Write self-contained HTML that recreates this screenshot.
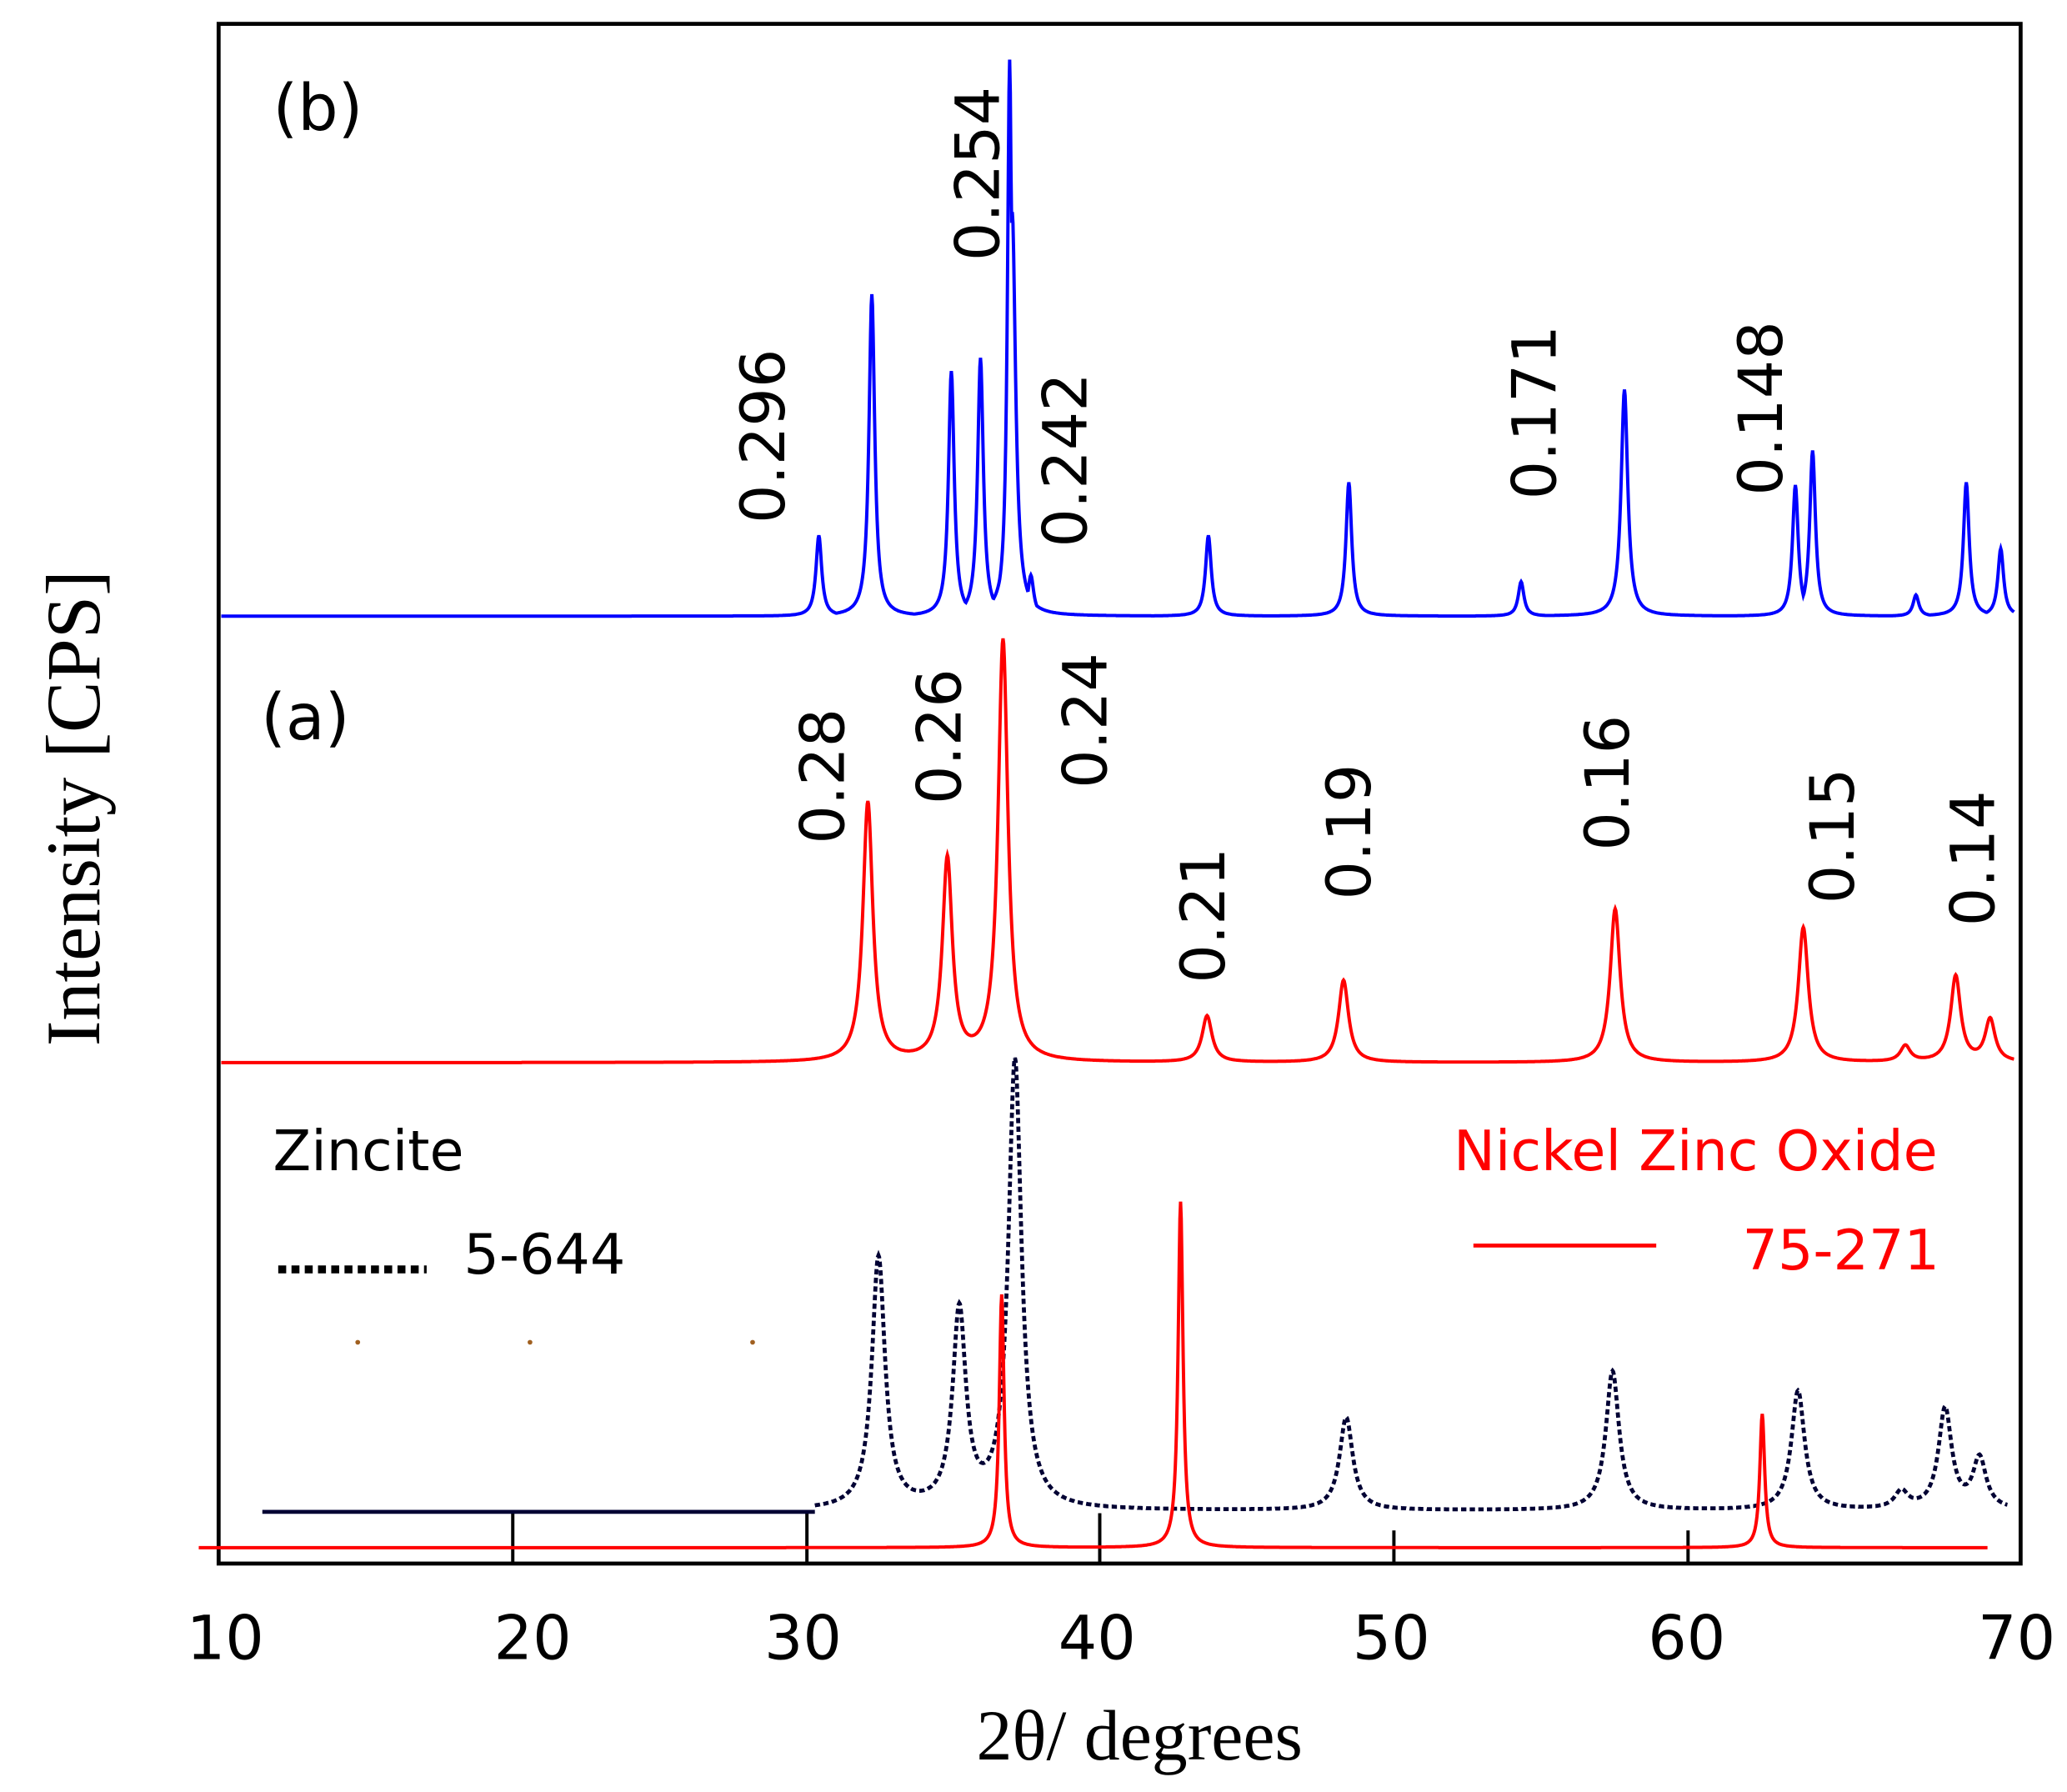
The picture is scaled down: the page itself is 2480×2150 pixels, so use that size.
<!DOCTYPE html>
<html><head><meta charset="utf-8"><style>
html,body{margin:0;padding:0;background:#fff;}
svg{display:block;}
.v{font-family:"DejaVu Sans","Liberation Sans",sans-serif;}
.s{font-family:"Liberation Serif",serif;}
</style></head><body>
<svg id="c" width="2480" height="2150" viewBox="0 0 1560 1352.4" preserveAspectRatio="none" xmlns="http://www.w3.org/2000/svg">
<rect x="0" y="0" width="1560" height="1353" fill="#fff"/>
<rect x="165" y="18" width="1360" height="1162" fill="none" stroke="#000" stroke-width="3"/>
<g stroke="#000" stroke-width="2.5">
<line x1="387" y1="1180" x2="387" y2="1142"/><line x1="609" y1="1180" x2="609" y2="1142"/>
<line x1="830" y1="1180" x2="830" y2="1142"/><line x1="1052" y1="1180" x2="1052" y2="1155"/>
<line x1="1274" y1="1180" x2="1274" y2="1155"/>
</g>
<path id="pb" fill="none" stroke="#0000ff" stroke-width="2.5"/>
<path id="pa" fill="none" stroke="#ff0000" stroke-width="2.5"/>
<path id="pk" fill="none" stroke="#000033" stroke-width="3" stroke-dasharray="4,2.5"/>
<path id="pr" fill="none" stroke="#ff0000" stroke-width="2.5"/>
<line x1="198" y1="1141" x2="615" y2="1141" stroke="#000033" stroke-width="3"/>
<g class="v" font-size="46" text-anchor="middle">
<text x="170" y="1252">10</text><text x="402" y="1252">20</text><text x="606" y="1252">30</text>
<text x="828" y="1252">40</text><text x="1050" y="1252">50</text><text x="1273" y="1252">60</text><text x="1522" y="1252">70</text>
</g>
<text class="s" x="860" y="1328" font-size="54" text-anchor="middle">2θ/ degrees</text>
<text class="s" font-size="58" text-anchor="middle" transform="translate(75,610) rotate(-90)">Intensity [CPS]</text>
<g class="v" font-size="48">
<text x="206" y="98">(b)</text><text x="197" y="558">(a)</text>
</g>
<g class="v" font-size="46" fill="#000">
<text transform="translate(592,395) rotate(-90)">0.296</text>
<text transform="translate(754,197) rotate(-90)">0.254</text>
<text transform="translate(820,413) rotate(-90)">0.242</text>
<text transform="translate(1174,377) rotate(-90)">0.171</text>
<text transform="translate(1345,374) rotate(-90)">0.148</text>
<text transform="translate(637,637) rotate(-90)">0.28</text>
<text transform="translate(725,607) rotate(-90)">0.26</text>
<text transform="translate(835,595) rotate(-90)">0.24</text>
<text transform="translate(924,742) rotate(-90)">0.21</text>
<text transform="translate(1034,679) rotate(-90)">0.19</text>
<text transform="translate(1229,642) rotate(-90)">0.16</text>
<text transform="translate(1399,682) rotate(-90)">0.15</text>
<text transform="translate(1505,699) rotate(-90)">0.14</text>
</g>
<g class="v" font-size="42">
<text x="206" y="883">Zincite</text>
<text x="350" y="961">5-644</text>
<text x="1097" y="883" fill="#ff0000">Nickel Zinc Oxide</text>
<text x="1315" y="958" fill="#ff0000">75-271</text>
</g>
<line x1="210" y1="958" x2="322" y2="958" stroke="#000" stroke-width="6" stroke-dasharray="6,4"/>
<line x1="1112" y1="940" x2="1250" y2="940" stroke="#ff0000" stroke-width="3"/>
<g fill="#a06020"><circle cx="270" cy="1013" r="1.8"/><circle cx="400" cy="1013" r="1.8"/><circle cx="568" cy="1013" r="1.8"/></g>
</svg>
<script>
function mk(id,x0,x1,base,w,peaks,useMax){
  var d="";
  for(var x=x0;x<=x1;x+=0.5){
    var s=0,m=0;
    for(var i=0;i<peaks.length;i++){var p=peaks[i],ww=p[2]||w;var dx=x-p[0];var v=(base-p[1])*ww*ww/(dx*dx+ww*ww);s+=v;if(v>m)m=v;}
    var y=base-(useMax?m:s);
    d+=(d?"L":"M")+x.toFixed(1)+","+y.toFixed(1);
  }
  document.getElementById(id).setAttribute("d",d);
}
mk("pb",167,1520,465,2.6,[[618,404],[658,222],[718,280],[740,270],[762,45,2],[764,160,3],[778,434],[912,404],[1018,364],[1148,439],[1226,294,3],[1355,366],[1368,340],[1446,449],[1484,364],[1510,414]],true);
mk("pa",167,1520,802,4.5,[[655,606],[715,650],[757,484],[911,767],[1014,740],[1219,686],[1361,700],[1438,790],[1476,737],[1502,770]]);
mk("pk",615,1515,1140,6,[[663,950],[724,992],[766,802],[1016,1070],[1217,1035],[1357,1050],[1435,1127],[1468,1064],[1494,1102]]);
mk("pr",150,1500,1168,2.2,[[756,977],[891,907],[1330,1067]]);
</script>
</body></html>
